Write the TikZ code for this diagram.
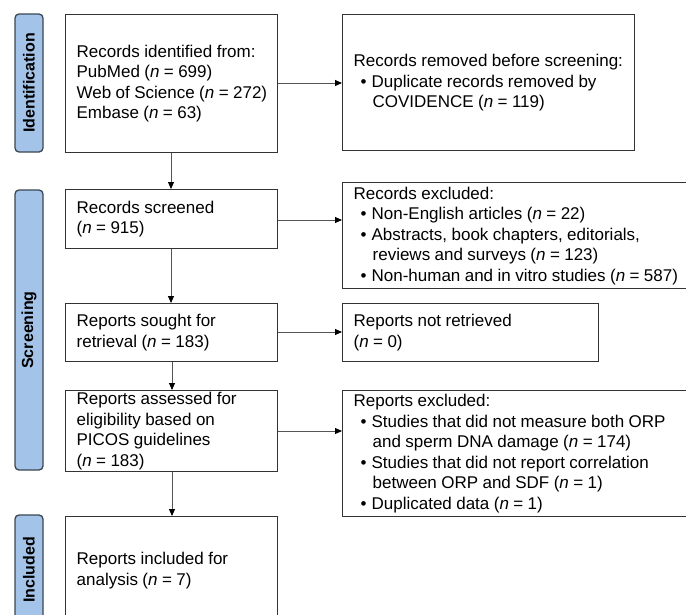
\documentclass[tikz,border=0pt]{standalone}
\usepackage{fontspec}
\setmainfont{Liberation Sans}
\usetikzlibrary{arrows.meta}
\definecolor{phasefill}{HTML}{A4C3E8}
\definecolor{phaseline}{HTML}{3B4652}
\definecolor{boxline}{HTML}{333333}
\definecolor{arrowline}{HTML}{555555}
\newcommand{\nn}{\textit{n}}
\newcommand{\bul}{\hspace*{7pt}\textbullet\hspace{5pt}}
\newcommand{\cont}{\hspace*{19pt}}
\newcommand{\tightwords}{\spaceskip=0.26em plus 0.05em minus 0.05em\relax}
\tikzset{
  flowbox/.style={draw=boxline, line width=1.3pt, anchor=north west, align=left,
    inner xsep=11pt, inner ysep=0pt, font=\fontsize{17}{20.5}\selectfont},
  phase/.style={draw=phaseline, fill=phasefill, line width=1.3pt, rounded corners=4pt},
  phasetext/.style={rotate=90, font=\fontsize{16}{18}\selectfont\bfseries, text=black},
  flowarrow/.style={draw=arrowline, line width=0.9pt, -{Triangle[length=7pt,width=6pt,fill=black,color=black]}}
}
\begin{document}
\begin{tikzpicture}[x=1pt,y=-1pt]
\useasboundingbox (0,0) rectangle (686,614);
\clip (0,0) rectangle (686,614);
% phase labels
\draw[phase] (15,14) rectangle (43,152);
\node[phasetext] (lid) at (29,83) {Identification};
\draw[phase] (15,190) rectangle (43,470);
\node[phasetext] (lsc) at (29,330) {Screening};
\draw[phase] (15,515) rectangle (43,640);
\node[phasetext] (lin) at (29,570) {Included};
% left boxes
\node[flowbox, minimum width=212pt, minimum height=138pt, text width=190pt] (b1) at (65,14)
  {\tightwords\mbox{Records identified from:}\\PubMed (\nn\ = 699)\\\mbox{Web of Science (\nn\ = 272)}\\Embase (\nn\ = 63)};
\node[flowbox, minimum width=212pt, minimum height=59pt, text width=190pt] (b2) at (65,189)
  {\tightwords Records screened\\(\nn\ = 915)};
\node[flowbox, minimum width=212pt, minimum height=58pt, text width=190pt] (b3) at (65,303)
  {\tightwords Reports sought for\\retrieval (\nn\ = 183)};
\node[flowbox, minimum width=212pt, minimum height=81pt, text width=190pt] (b4) at (65,390)
  {\tightwords Reports assessed for\\eligibility based on\\PICOS guidelines\\(\nn\ = 183)};
\node[flowbox, minimum width=212pt, minimum height=108pt, text width=190pt] (b5) at (65,516)
  {\tightwords Reports included for\\analysis (\nn\ = 7)};
% right boxes
\node[flowbox, minimum width=292pt, minimum height=136pt, text width=270pt] (r1) at (342,14)
  {\tightwords\mbox{Records removed before screening:}\\\bul Duplicate records removed by\\\cont COVIDENCE (\nn\ = 119)};
\node[flowbox, minimum width=360pt, minimum height=106pt, text width=338pt] (r2) at (342,182)
  {\tightwords Records excluded:\\\bul Non-English articles (\nn\ = 22)\\\bul Abstracts, book chapters, editorials,\\\cont reviews and surveys (\nn\ = 123)\\\bul \mbox{Non-human and in vitro studies (\nn\ = 587)}};
\node[flowbox, minimum width=256pt, minimum height=58pt, text width=234pt] (r3) at (342,303)
  {\tightwords Reports not retrieved\\(\nn\ = 0)};
\node[flowbox, minimum width=360pt, minimum height=126pt, text width=338pt] (r4) at (342,390)
  {\tightwords Reports excluded:\\\bul Studies that did not measure both ORP\\\cont and sperm DNA damage (\nn\ = 174)\\\bul Studies that did not report correlation\\\cont between ORP and SDF (\nn\ = 1)\\\bul Duplicated data (\nn\ = 1)};
% arrows
\draw[flowarrow] (b1.east |- 0,83) -- (r1.west |- 0,83);
\draw[flowarrow] (b2.east |- 0,220) -- (r2.west |- 0,220);
\draw[flowarrow] (b3.east |- 0,332) -- (r3.west |- 0,332);
\draw[flowarrow] (b4.east |- 0,431) -- (r4.west |- 0,431);
\draw[flowarrow] (b1.south -| 171,0) -- (b2.north -| 171,0);
\draw[flowarrow] (b2.south -| 171,0) -- (b3.north -| 171,0);
\draw[flowarrow] (b3.south -| 172,0) -- (b4.north -| 172,0);
\draw[flowarrow] (b4.south -| 172,0) -- (b5.north -| 172,0);
\end{tikzpicture}
\end{document}
